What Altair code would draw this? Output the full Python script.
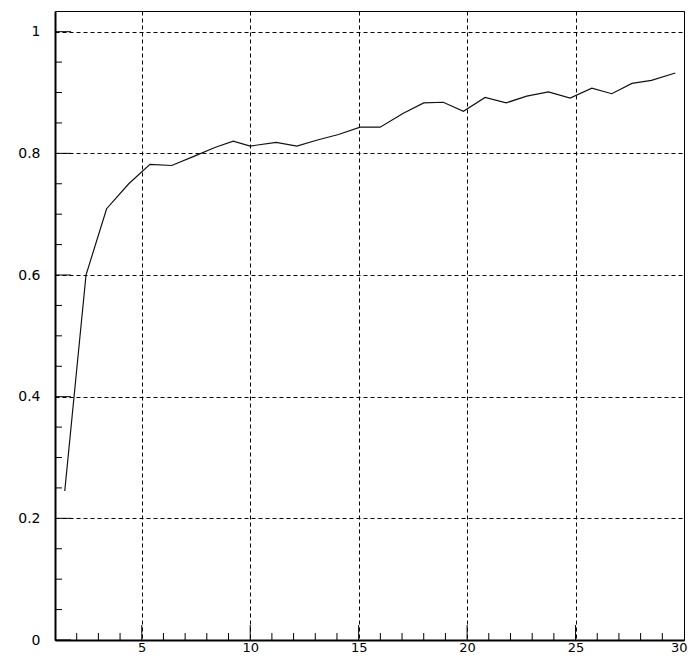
import altair as alt
import pandas as pd

# Line data
xs = [1.45, 2.43, 3.38, 4.4, 5.38, 6.38, 7.4, 8.4, 9.22, 10.0, 11.2, 12.15, 13.1,
      14.07, 15.07, 15.99, 17.06, 18.0, 18.9, 19.83, 20.83, 21.8, 22.75, 23.75,
      24.75, 25.75, 26.67, 27.6, 28.5, 29.6]
vals = [0.245, 0.600, 0.709, 0.750, 0.782, 0.780, 0.795, 0.810, 0.820, 0.812, 0.818,
        0.812, 0.822, 0.831, 0.843, 0.843, 0.866, 0.883, 0.884, 0.869, 0.892, 0.883,
        0.894, 0.901, 0.891, 0.907, 0.898, 0.915, 0.920, 0.932]

# Axis ticks
x_major = [5, 10, 15, 20, 25, 30]
x_major_ticks = [5, 10, 15, 20, 25]
x_minor = [2, 3, 4, 6, 7, 8, 9, 11, 12, 13, 14, 16, 17, 18, 19, 21, 22, 23, 24,
           26, 27, 28, 29]
y_major = [0, 0.2, 0.4, 0.6, 0.8, 1.0]
y_minor = [0.05, 0.1, 0.15, 0.25, 0.3, 0.35, 0.45, 0.5, 0.55, 0.65, 0.7, 0.75,
           0.85, 0.9, 0.95]

W, H = 629, 629
FONT = "DejaVu Sans"

xscale = alt.Scale(domain=[1, 30], nice=False, zero=False)
yscale = alt.Scale(domain=[0, 1.034], nice=False, zero=False)

xaxis = alt.Axis(
    values=x_major, title=None, grid=True, gridDash=[4, 3], gridColor="black",
    gridOpacity=1, gridWidth=1, ticks=False, domainColor="black", domainWidth=2,
    labelFont=FONT, labelFontSize=13, labelColor="black", labelPadding=1,
    labelFlush=True, labelFlushOffset=3, labelOverlap=False, labelBaseline="top")
yaxis = alt.Axis(
    values=y_major, format="~g", title=None, grid=True, gridDash=[4, 3],
    gridColor="black", gridOpacity=1, gridWidth=1, ticks=False,
    domainColor="black", domainWidth=2, labelFont=FONT, labelFontSize=14,
    labelColor="black", labelPadding=15, labelFlush=False, labelOverlap=False,
    labelBaseline="middle")

df = pd.DataFrame({"x": xs, "v": vals})

line = alt.Chart(df).mark_line(color="#111111", strokeWidth=1.2).encode(
    x=alt.X("x:Q", scale=xscale, axis=xaxis),
    y=alt.Y("v:Q", scale=yscale, axis=yaxis),
)

ymaj = alt.Chart(pd.DataFrame({"v": y_major})).mark_rule(color="black", strokeWidth=1).encode(
    y=alt.Y("v:Q", scale=yscale, axis=yaxis), x=alt.value(0), x2=alt.value(16))
ymin = alt.Chart(pd.DataFrame({"v": y_minor})).mark_rule(color="black", strokeWidth=1).encode(
    y=alt.Y("v:Q", scale=yscale, axis=yaxis), x=alt.value(0), x2=alt.value(7))
xmaj = alt.Chart(pd.DataFrame({"x": x_major_ticks})).mark_rule(color="black", strokeWidth=1).encode(
    x=alt.X("x:Q", scale=xscale, axis=xaxis), y=alt.value(H), y2=alt.value(H - 15))
xmin = alt.Chart(pd.DataFrame({"x": x_minor})).mark_rule(color="black", strokeWidth=1).encode(
    x=alt.X("x:Q", scale=xscale, axis=xaxis), y=alt.value(H), y2=alt.value(H - 7))

chart = alt.layer(line, ymaj, ymin, xmaj, xmin).properties(
    width=W, height=H,
    autosize=alt.AutoSizeParams(type="none"),
    padding={"left": 47, "top": 3, "right": 4, "bottom": 15},
    background="white",
).configure_view(stroke="black", strokeWidth=1)

chart.save("out.html", embed_options={"renderer": "svg", "actions": False})
